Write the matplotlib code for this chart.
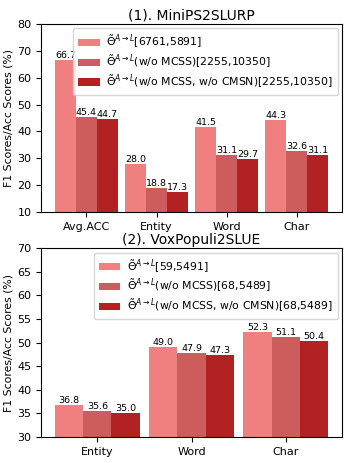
import numpy as np
import matplotlib.pyplot as plt

colors = ['#F08080', '#CD5C5C', '#B22222']

cats1 = ["Avg.ACC", "Entity", "Word", "Char"]
full1 = [66.7, 28.0, 41.5, 44.3]
no_mcss1 = [45.4, 18.8, 31.1, 32.6]
no_both1 = [44.7, 17.3, 29.7, 31.1]
labels1 = [r'$\tilde{\Theta}^{A\rightarrow L}$[6761,5891]',
           r'$\tilde{\Theta}^{A\rightarrow L}$(w/o MCSS)[2255,10350]',
           r'$\tilde{\Theta}^{A\rightarrow L}$(w/o MCSS, w/o CMSN)[2255,10350]']

cats2 = ["Entity", "Word", "Char"]
full2 = [36.8, 49.0, 52.3]
no_mcss2 = [35.6, 47.9, 51.1]
no_both2 = [35.0, 47.3, 50.4]
labels2 = [r'$\tilde{\Theta}^{A\rightarrow L}$[59,5491]',
           r'$\tilde{\Theta}^{A\rightarrow L}$(w/o MCSS)[68,5489]',
           r'$\tilde{\Theta}^{A\rightarrow L}$(w/o MCSS, w/o CMSN)[68,5489]']

fig = plt.figure(figsize=(3.49, 4.63), dpi=100)
ax1 = fig.add_axes([0.118, 0.542, 0.862, 0.406])
ax2 = fig.add_axes([0.118, 0.056, 0.862, 0.408])

width = 0.3


def draw(ax, cats, series, labels, ylim, yticks, title):
    x = np.arange(len(cats))
    for i, (vals, lab) in enumerate(zip(series, labels)):
        bars = ax.bar(x + (i - 1) * width, vals, width, color=colors[i], label=lab)
        for b, v in zip(bars, vals):
            ax.text(b.get_x() + b.get_width() / 2, v, '%.1f' % v,
                    ha='center', va='bottom', fontsize=6.8)
    ax.set_xticks(x)
    ax.set_xticklabels(cats, fontsize=8)
    ax.set_ylim(ylim)
    ax.set_yticks(yticks)
    ax.tick_params(axis='y', labelsize=8)
    ax.set_ylabel('F1 Scores/Acc Scores (%)', fontsize=7.8, labelpad=3)
    ax.set_title(title, fontsize=10, pad=3)
    ax.legend(loc='upper right', fontsize=7.8, borderaxespad=0.4,
              labelspacing=0.25, borderpad=0.45, handletextpad=0.6)


draw(ax1, cats1, [full1, no_mcss1, no_both1], labels1, (10, 80),
     range(10, 81, 10), '(1). MiniPS2SLURP')
draw(ax2, cats2, [full2, no_mcss2, no_both2], labels2, (30, 70),
     range(30, 71, 5), '(2). VoxPopuli2SLUE')

fig.savefig('out.png', dpi=100)
